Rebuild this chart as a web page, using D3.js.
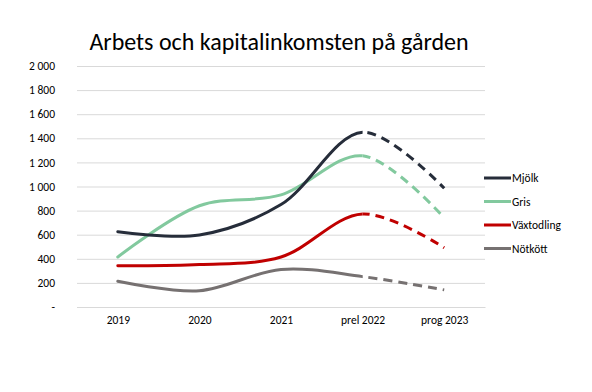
<!DOCTYPE html>
<html><head><meta charset="utf-8">
<script src="https://cdn.jsdelivr.net/npm/d3@7"></script>
<style>body{margin:0;background:#fff}svg{display:block}text{font-family:Carlito,"Open Sans","Liberation Sans",sans-serif}</style>
</head><body>
<svg id="c" width="592" height="392"></svg>
<script>
const categories = ["2019","2020","2021","prel 2022","prog 2023"];
const mjolk = [625, 598, 850, 1450, 985];
const gris = [415, 840, 930, 1255, 740];
const vaxtodling = [343, 352, 415, 772, 492];
const notkott = [213, 135, 312, 252, 142];
const yTicks = [0,200,400,600,800,1000,1200,1400,1600,1800,2000];
const seriesNames = ["Mjölk","Gris","Växtodling","Nötkött"];
const seriesColors = ["#262d3a","#82c99e","#c00000","#767171"];
const seriesData = [mjolk, gris, vaxtodling, notkott];

(function(){
const svg = d3.select("#c");
const left = 77, right = 485, topY = 66, bottom = 307;
const x = d3.scalePoint().domain(categories).range([left, right]).padding(0.5);
const y = d3.scaleLinear().domain([0, 2000]).range([bottom, topY]);
const fmt = v => v === 0 ? "-" : d3.format(",")(v).replace(",", " ");

svg.append("text").attr("x", 279).attr("y", 50).attr("text-anchor","middle")
  .attr("font-size", 24).attr("fill","#000").text("Arbets och kapitalinkomsten på gården");

const yAxis = svg.append("g").attr("transform", `translate(${left},0)`)
  .call(d3.axisLeft(y).tickValues(yTicks).tickSize(-(right-left)).tickFormat(fmt));
yAxis.select(".domain").remove();
yAxis.selectAll(".tick line").attr("stroke","#d9d9d9");
yAxis.selectAll(".tick text").attr("x",-22).attr("font-size",11.5).attr("fill","#000");

const xAxis = svg.append("g").attr("transform", `translate(0,${bottom})`)
  .call(d3.axisBottom(x).tickSize(0));
xAxis.select(".domain").attr("stroke","#d9d9d9");
xAxis.selectAll(".tick text").attr("dy",14).attr("font-size",11.5).attr("fill","#000");

const splitX = x("prel 2022");
const defs = svg.append("defs");
defs.append("clipPath").attr("id","solid").append("rect").attr("x",0).attr("y",0).attr("width",splitX).attr("height",392);
defs.append("clipPath").attr("id","dash").append("rect").attr("x",splitX).attr("y",0).attr("width",592-splitX).attr("height",392);

const line = d3.line().x((d,i)=>x(categories[i])).y(d=>y(d)).curve(d3.curveCatmullRom.alpha(0.5));
const order = [3,2,1,0];
order.forEach(k => {
  const g = svg.append("g");
  g.append("path").attr("d", line(seriesData[k])).attr("fill","none").attr("stroke",seriesColors[k])
    .attr("stroke-width",3).attr("clip-path","url(#solid)").attr("stroke-linecap","round");
  g.append("path").attr("d", line(seriesData[k])).attr("fill","none").attr("stroke",seriesColors[k])
    .attr("stroke-width",3).attr("clip-path","url(#dash)").attr("stroke-dasharray","9,6");
});

const leg = svg.append("g");
seriesNames.forEach((n,i) => {
  const yy = 178 + i*23.5;
  leg.append("line").attr("x1",484).attr("x2",511).attr("y1",yy).attr("y2",yy)
    .attr("stroke",seriesColors[i]).attr("stroke-width",3);
  leg.append("text").attr("x",512).attr("y",yy+4).attr("font-size",11.5).attr("fill","#000").text(n);
});
})();
</script>
</body></html>
